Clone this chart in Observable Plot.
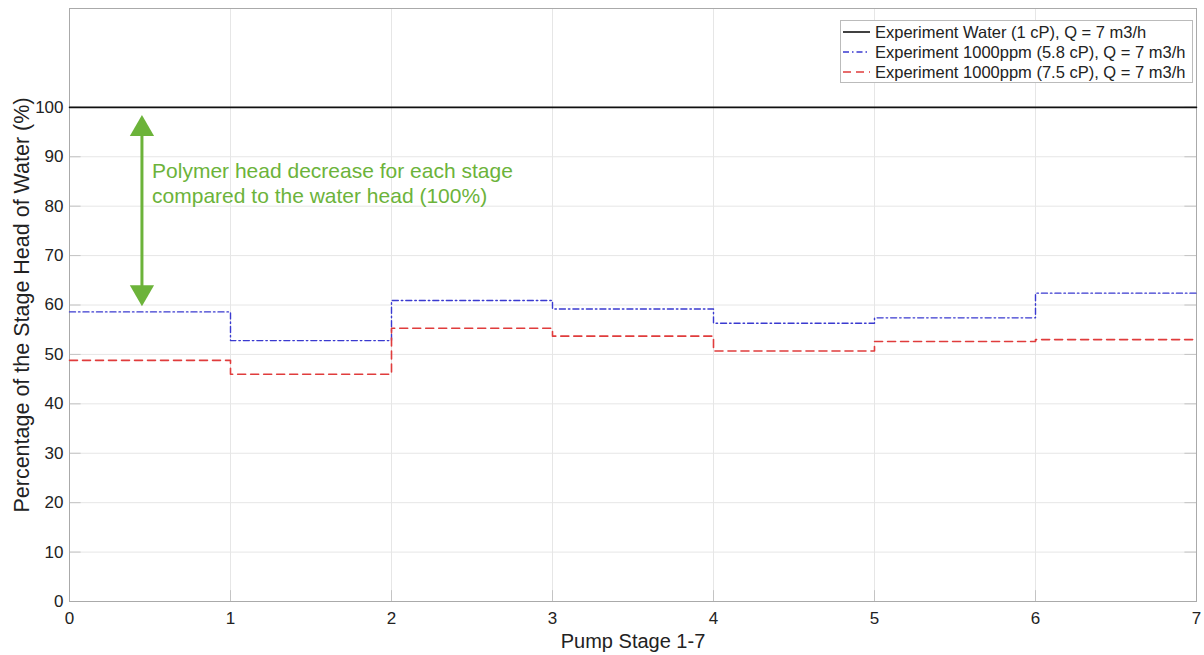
<!DOCTYPE html>
<html>
<head>
<meta charset="utf-8">
<script src="https://cdn.jsdelivr.net/npm/d3@7"></script>
<script src="https://cdn.jsdelivr.net/npm/@observablehq/plot@0.6"></script>
<style>
  body { margin: 0; background: #fff; font-family: "Liberation Sans", Arial, Helvetica, sans-serif; }
  #wrap { position: relative; width: 1204px; height: 655px; }
  #legend { position: absolute; left: 840px; top: 20px; width: 353px; height: 63px; border: 1px solid #bbb; background: #fff; box-sizing: border-box; padding-top: 1px; }
  .row { display: flex; align-items: center; height: 20px; font-size: 16.5px; color: #222; white-space: nowrap; }
  .row svg { margin-left: 2px; margin-right: 5px; }
</style>
</head>
<body>
<div id="wrap"><div id="legend"></div></div>
<script>
const stages = [0, 1, 2, 3, 4, 5, 6, 7];
const waterHead = [100, 100, 100, 100, 100, 100, 100];
const ppm58Head = [58.6, 52.8, 60.9, 59.2, 56.3, 57.4, 62.4];
const ppm75Head = [48.8, 46.0, 55.3, 53.7, 50.7, 52.6, 53.0];
const seriesNames = [
  "Experiment Water (1 cP), Q = 7 m3/h",
  "Experiment 1000ppm (5.8 cP), Q = 7 m3/h",
  "Experiment 1000ppm (7.5 cP), Q = 7 m3/h"
];
const yTicks = [0, 10, 20, 30, 40, 50, 60, 70, 80, 90, 100];
const annotationText = "Polymer head decrease for each stage\ncompared to the water head (100%)";
const arrowX = 0.45;
const arrowTop = 97.6, arrowBottom = 60.6;

const styles = [
  {color: "#111111", dash: null, width: 1.6},
  {color: "#3a3ad0", dash: "6,3,1.5,3", width: 1.4},
  {color: "#e03c3c", dash: "8,5", width: 1.6}
];

function stepData(vals) {
  return stages.map((s, i) => ({x: s, y: vals[Math.min(i, vals.length - 1)]}));
}
const series = [waterHead, ppm58Head, ppm75Head].map(stepData);

const green = "#6cb33a";

const chart = Plot.plot({
  width: 1204,
  height: 655,
  marginLeft: 69,
  marginRight: 8,
  marginTop: 8,
  marginBottom: 54,
  style: {fontFamily: "'Liberation Sans', Arial, Helvetica, sans-serif", fontSize: "17px", color: "#333", background: "#fff"},
  x: {domain: [0, 7], ticks: stages},
  y: {domain: [0, 120]},
  marks: [
    Plot.gridX(stages, {stroke: "#e6e6e6", strokeOpacity: 1}),
    Plot.gridY(yTicks, {stroke: "#e6e6e6", strokeOpacity: 1}),
    Plot.ruleY(yTicks, {x1: 0, x2: 0.072, stroke: "#c4c4c4"}),
    Plot.ruleY(yTicks, {x1: 6.928, x2: 7, stroke: "#c4c4c4"}),
    Plot.ruleX(stages, {y1: 0, y2: 2.2, stroke: "#c4c4c4"}),
    Plot.frame({stroke: "#aaa"}),
    Plot.axisX(stages, {tickSize: 0, tickPadding: 10, fontSize: 17, tickFormat: "d", label: null, fill: "#222"}),
    Plot.axisX({tickSize: 0, ticks: [], label: "Pump Stage 1-7", labelAnchor: "center", labelArrow: "none", labelOffset: 46, fontSize: 20, fill: "#222"}),
    Plot.axisY(yTicks, {tickSize: 0, tickPadding: 6, fontSize: 17, label: null, fill: "#222"}),
    Plot.axisY({tickSize: 0, ticks: [], label: "Percentage of the Stage Head of Water (%)", labelAnchor: "center", labelArrow: "none", labelOffset: 56, fontSize: 21.5, fill: "#222"}),
    ...series.map((d, i) => Plot.line(d, {x: "x", y: "y", curve: "step-after", stroke: styles[i].color, strokeWidth: styles[i].width, strokeDasharray: styles[i].dash})),
    Plot.ruleX([arrowX], {y1: arrowBottom + 2, y2: arrowTop - 2, stroke: green, strokeWidth: 3}),
    Plot.dot([{x: arrowX, y: arrowTop - 2}], {x: "x", y: "y", symbol: "triangle", r: 9, fill: green, stroke: "none"}),
    Plot.dot([{x: arrowX, y: arrowBottom + 2}], {x: "x", y: "y", symbol: "triangle", r: 9, fill: green, stroke: "none", rotate: 180}),
    Plot.text([annotationText], {x: 0.513, y: 84.8, text: d => d, textAnchor: "start", lineAnchor: "middle", fill: green, fontSize: 21, lineHeight: 1.2})
  ]
});
document.getElementById("wrap").prepend(chart);

const leg = document.getElementById("legend");
seriesNames.forEach((name, i) => {
  const row = document.createElement("div");
  row.className = "row";
  const s = styles[i];
  row.innerHTML = `<svg width="27" height="10"><line x1="0" y1="5" x2="27" y2="5" stroke="${s.color}" stroke-width="${s.width}" ${s.dash ? `stroke-dasharray="${s.dash}"` : ""}/></svg><span>${name}</span>`;
  leg.appendChild(row);
});
</script>
</body>
</html>
